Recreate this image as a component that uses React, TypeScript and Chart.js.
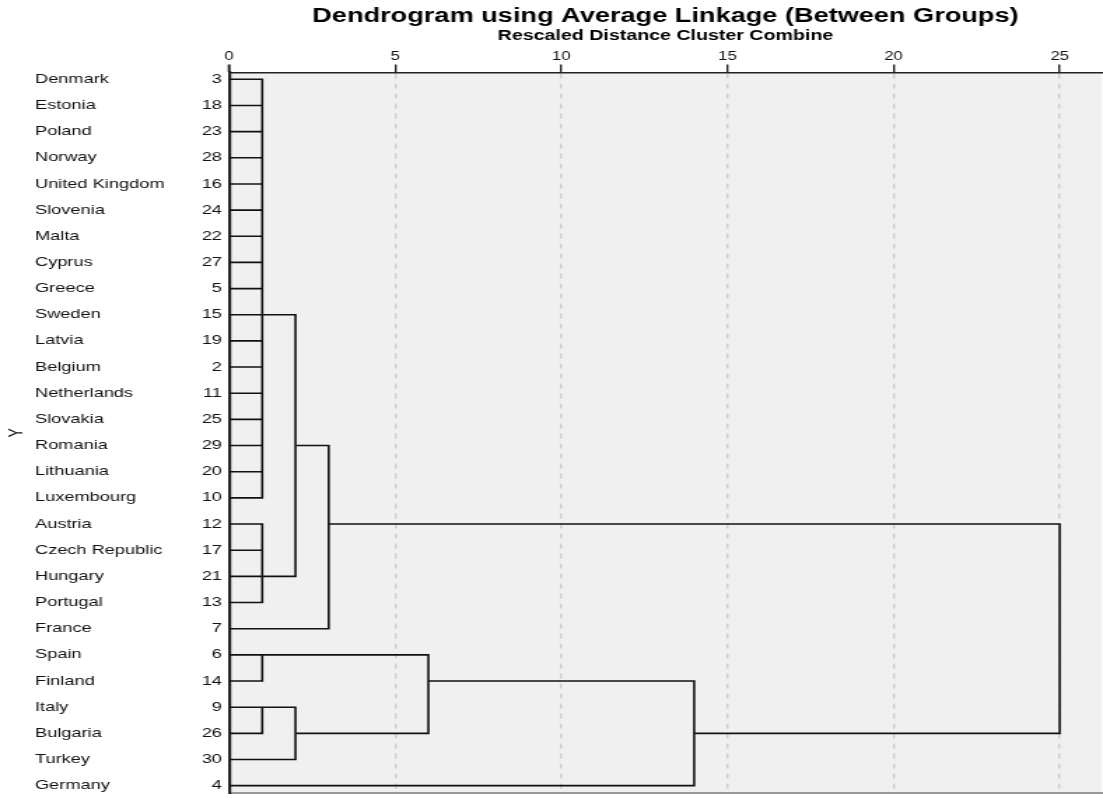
import React, { useEffect, useRef } from "react";
import { Chart, registerables } from "chart.js";

Chart.register(...registerables);

// ---------- data ----------
const countries = [
  "Denmark", "Estonia", "Poland", "Norway", "United Kingdom", "Slovenia", "Malta",
  "Cyprus", "Greece", "Sweden", "Latvia", "Belgium", "Netherlands", "Slovakia",
  "Romania", "Lithuania", "Luxembourg", "Austria", "Czech Republic", "Hungary",
  "Portugal", "France", "Spain", "Finland", "Italy", "Bulgaria", "Turkey", "Germany",
];
const caseNumbers = [
  3, 18, 23, 28, 16, 24, 22, 27, 5, 15, 19, 2, 11, 25, 29, 20, 10, 12, 17, 21, 13, 7,
  6, 14, 9, 26, 30, 4,
];
const xTickValues = [0, 5, 10, 15, 20, 25];

// children: leaf row index (0..27) or 100 + merge index
const mergeChildren: number[][] = [
  [0, 1, 2, 3, 4, 5, 6, 7, 8, 9, 10, 11, 12, 13, 14, 15, 16], // M0
  [17, 18, 19, 20], // M1
  [100, 101], // M2
  [102, 21], // M3
  [22, 23], // M4
  [24, 25], // M5
  [105, 26], // M6
  [104, 106], // M7
  [107, 27], // M8
  [103, 108], // M9
];
const mergeHeights = [1, 1, 2, 3, 1, 1, 2, 6, 14, 25];
const mergeJoinRows = [9, 19, 14, 17, 22, 24, 25, 23, 25, 25];

const X_MAX = 26.27;
const Y_MIN = -0.26;
const Y_MAX = 27.28;

const INNER_W = 788;
const PAGE_W = 1103;
const PAGE_H = 798;

const FONT = "'Liberation Sans', Arial, Helvetica, sans-serif";

type Pt = { x: number | null; y: number | null };

function buildSegments(): Pt[] {
  const pts: Pt[] = [];
  const nodeX = (id: number) => (id >= 100 ? mergeHeights[id - 100] : 0);
  const nodeY = (id: number) => (id >= 100 ? mergeJoinRows[id - 100] : id);
  mergeChildren.forEach((children, m) => {
    const h = mergeHeights[m];
    const kids = children
      .map((c) => ({ x: nodeX(c), y: nodeY(c) }))
      .sort((a, b) => a.y - b.y);
    const first = kids[0];
    const last = kids[kids.length - 1];
    pts.push(
      { x: first.x, y: first.y },
      { x: h, y: first.y },
      { x: h, y: last.y },
      { x: last.x, y: last.y },
      { x: null, y: null }
    );
    kids.slice(1, -1).forEach((k) => {
      pts.push({ x: k.x, y: k.y }, { x: h, y: k.y }, { x: null, y: null });
    });
  });
  return pts;
}

const areaBackground = {
  id: "areaBackground",
  beforeDraw(chart: any) {
    const { ctx, chartArea } = chart;
    if (!chartArea) return;
    ctx.save();
    ctx.fillStyle = "#f0f0f0";
    ctx.fillRect(
      chartArea.left,
      chartArea.top,
      chartArea.right - chartArea.left,
      chartArea.bottom - chartArea.top
    );
    ctx.restore();
  },
};

const rowTicks = (s: any) => {
  s.ticks = countries.map((_, i) => ({ value: i }));
};

export default function App() {
  const ref = useRef<HTMLCanvasElement | null>(null);

  useEffect(() => {
    document.body.style.margin = "0";
    document.body.style.overflow = "hidden";
    if (!ref.current) return;
    const chart = new Chart(ref.current, {
      type: "line",
      data: {
        datasets: [
          {
            data: buildSegments() as any,
            borderColor: "#111111",
            borderWidth: 1.6,
            pointRadius: 0,
            pointHoverRadius: 0,
            spanGaps: false,
            fill: false,
            tension: 0,
            xAxisID: "x",
            yAxisID: "yNums",
            borderJoinStyle: "miter",
          },
        ],
      },
      options: {
        animation: false,
        responsive: true,
        maintainAspectRatio: false,
        events: [],
        layout: { padding: { left: 0, right: 0, top: 0, bottom: 5 } },
        plugins: {
          legend: { display: false },
          tooltip: { enabled: false },
          title: {
            display: true,
            text: "Dendrogram using Average Linkage (Between Groups)",
            color: "#000",
            font: { family: FONT, size: 19.4, weight: "bold" },
            padding: { top: 4.6, bottom: 0 },
            fullSize: false,
          },
          subtitle: {
            display: true,
            text: "Rescaled Distance Cluster Combine",
            color: "#000",
            font: { family: FONT, size: 14, weight: "bold" },
            padding: { top: 0.3, bottom: 3.1 },
            fullSize: false,
          },
        },
        scales: {
          x: {
            type: "linear",
            position: "top",
            min: 0,
            max: X_MAX,
            afterBuildTicks: (s: any) => {
              s.ticks = xTickValues.map((v) => ({ value: v }));
            },
            ticks: {
              font: { family: FONT, size: 12 },
              color: "#111",
              padding: 1,
              maxRotation: 0,
              autoSkip: false,
            },
            grid: {
              color: (c: any) => (c.index === 0 ? "rgba(0,0,0,0)" : "#cdcdcd"),
              lineWidth: 1.4,
              drawTicks: true,
              tickLength: 8,
              tickColor: "#222",
              tickWidth: (c: any) => (c.index === 0 ? 2 : 1.4),
              tickBorderDash: [],
            },
            border: { display: true, color: "#222", width: 1.6, dash: [5, 5] },
          },
          xBottom: {
            type: "linear",
            position: "bottom",
            min: 0,
            max: X_MAX,
            ticks: { display: false },
            grid: { display: false, drawTicks: false },
            border: { display: true, color: "#9a9a9a", width: 2 },
          },
          yTitle: {
            type: "linear",
            position: "left",
            weight: 2,
            reverse: true,
            min: Y_MIN,
            max: Y_MAX,
            ticks: { display: false },
            grid: { display: false, drawTicks: false },
            border: { display: false },
            title: {
              display: true,
              text: "Y",
              color: "#111",
              font: { family: FONT, size: 14 },
              padding: { top: 3.4, bottom: 0 },
            },
            afterFit: (s: any) => {
              s.width = 25;
            },
          },
          yNames: {
            type: "linear",
            position: "left",
            weight: 1,
            reverse: true,
            min: Y_MIN,
            max: Y_MAX,
            afterBuildTicks: rowTicks,
            ticks: {
              crossAlign: "far",
              padding: 0,
              autoSkip: false,
              color: "#111",
              font: { family: FONT, size: 13 },
              callback: (v: any) => countries[v as number] ?? "",
            },
            grid: { display: false, drawTicks: false },
            border: { display: false },
            afterFit: (s: any) => {
              s.width = 108.6;
              s.paddingTop = 0;
              s.paddingBottom = 0;
            },
          },
          yNums: {
            type: "linear",
            position: "left",
            weight: 0,
            reverse: true,
            min: Y_MIN,
            max: Y_MAX,
            afterBuildTicks: rowTicks,
            ticks: {
              crossAlign: "near",
              padding: 5,
              autoSkip: false,
              color: "#111",
              font: { family: FONT, size: 13 },
              callback: (v: any) => {
                const n = caseNumbers[v as number];
                return n === undefined ? "" : String(n);
              },
            },
            grid: { display: false, drawTicks: false },
            border: { display: true, color: "#222", width: 2.2 },
            afterFit: (s: any) => {
              s.width = 30;
              s.paddingTop = 0;
              s.paddingBottom = 0;
            },
          },
        },
      } as any,
      plugins: [areaBackground],
    });
    return () => chart.destroy();
  }, []);

  return (
    <div
      style={{
        width: INNER_W,
        height: PAGE_H,
        transform: `scaleX(${PAGE_W / INNER_W})`,
        transformOrigin: "0 0",
      }}
    >
      <canvas ref={ref} />
    </div>
  );
}
